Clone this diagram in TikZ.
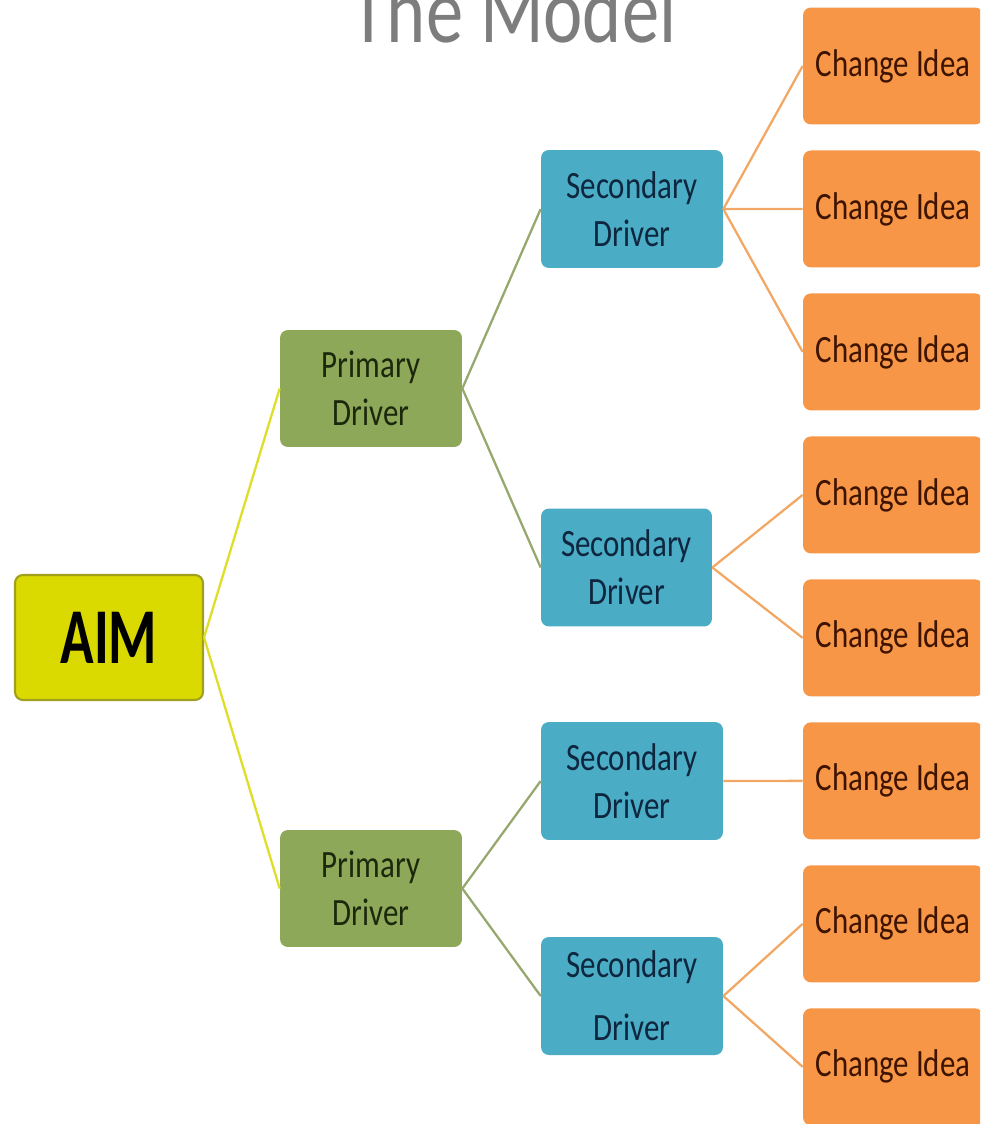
\documentclass[tikz,border=0pt]{standalone}
\usepackage{fontspec}
\setmainfont{Carlito}
\newfontfamily\boxfont[FakeStretch=0.8]{Carlito}
\newfontfamily\aimfont[FakeStretch=0.7]{Carlito}
\usetikzlibrary{positioning}
\definecolor{aimfill}{RGB}{218,218,0}
\definecolor{aimedge}{RGB}{160,160,30}
\definecolor{primfill}{RGB}{142,168,90}
\definecolor{primtext}{RGB}{28,40,12}
\definecolor{secfill}{RGB}{75,172,198}
\definecolor{sectext}{RGB}{14,38,62}
\definecolor{ideafill}{RGB}{247,150,70}
\definecolor{ideatext}{RGB}{62,20,0}
\definecolor{aimline}{RGB}{222,222,40}
\definecolor{primline}{RGB}{150,168,110}
\definecolor{secline}{RGB}{242,168,100}
\definecolor{titlegray}{RGB}{125,125,125}

\begin{document}
\begin{tikzpicture}[x=0.02cm,y=-0.02cm,node distance=2.86cm,
  box/.style={rectangle,rounded corners=4.5pt,inner sep=0pt,align=center,
    font=\boxfont\fontsize{22}{27.3}\selectfont},
  aim node/.style={box,fill=aimfill,draw=aimedge,line width=1.2pt,
    minimum width=3.76cm,minimum height=2.5cm,
    font=\aimfont\bfseries\fontsize{45}{50}\selectfont},
  primary node/.style={box,fill=primfill,text=primtext,
    minimum width=3.64cm,minimum height=2.34cm},
  secondary node/.style={box,fill=secfill,text=sectext,
    minimum width=3.64cm,minimum height=2.36cm},
  idea node/.style={box,fill=ideafill,text=ideatext,
    minimum width=3.6cm,minimum height=2.34cm}]

\useasboundingbox (0,0) rectangle (980,1124);
\clip (0,0) rectangle (980,1124);

% Title
  \node (title) at (513.5,43) [anchor=base,text=titlegray,
    font=\boxfont\fontsize{53}{60}\selectfont] {The Model};

% Aim and primary drivers
  \node[aim node] (aim) at (109,637.5) {AIM};
  \node[primary node] (pd1) at (371,388.5) {Primary\\Driver};
  \node[primary node] (pd2) at (371,888.5) {Primary\\Driver};

% Secondary drivers
  \node[secondary node] (sd1) at (632,209) {Secondary\\Driver};
  \node[secondary node,minimum width=3.42cm] (sd2) at (626.5,567.5) {Secondary\\Driver};
  \node[secondary node] (sd3) at (632,781) {Secondary\\Driver};
  \node[secondary node] (sd4) at (632,996) {Secondary\\[8.5pt]Driver};

% Change ideas
  \node[idea node] (ci1) at (893,66) {Change Idea};
  \node[idea node] (ci2) [below of=ci1] {Change Idea};
  \node[idea node] (ci3) [below of=ci2] {Change Idea};
  \node[idea node] (ci4) [below of=ci3] {Change Idea};
  \node[idea node] (ci5) [below of=ci4] {Change Idea};
  \node[idea node] (ci6) [below of=ci5] {Change Idea};
  \node[idea node] (ci7) [below of=ci6] {Change Idea};
  \node[idea node] (ci8) [below of=ci7] {Change Idea};

% Connectors
  \path[draw=aimline,line width=1.3pt]
    (aim.east) edge (pd1.west)
    (aim.east) edge (pd2.west);

  \path[draw=primline,line width=1.3pt]
    (pd1.east) edge (sd1.west)
    (pd1.east) edge (sd2.west)
    (pd2.east) edge (sd3.west)
    (pd2.east) edge (sd4.west);

  \path[draw=secline,line width=1.3pt]
    (sd1.east) edge (ci1.west)
    (sd1.east) edge (ci2.west)
    (sd1.east) edge (ci3.west)
    (sd2.east) edge (ci4.west)
    (sd2.east) edge (ci5.west)
    (sd3.east) edge (ci6.west)
    (sd4.east) edge (ci7.west)
    (sd4.east) edge (ci8.west);

\end{tikzpicture}
\end{document}
